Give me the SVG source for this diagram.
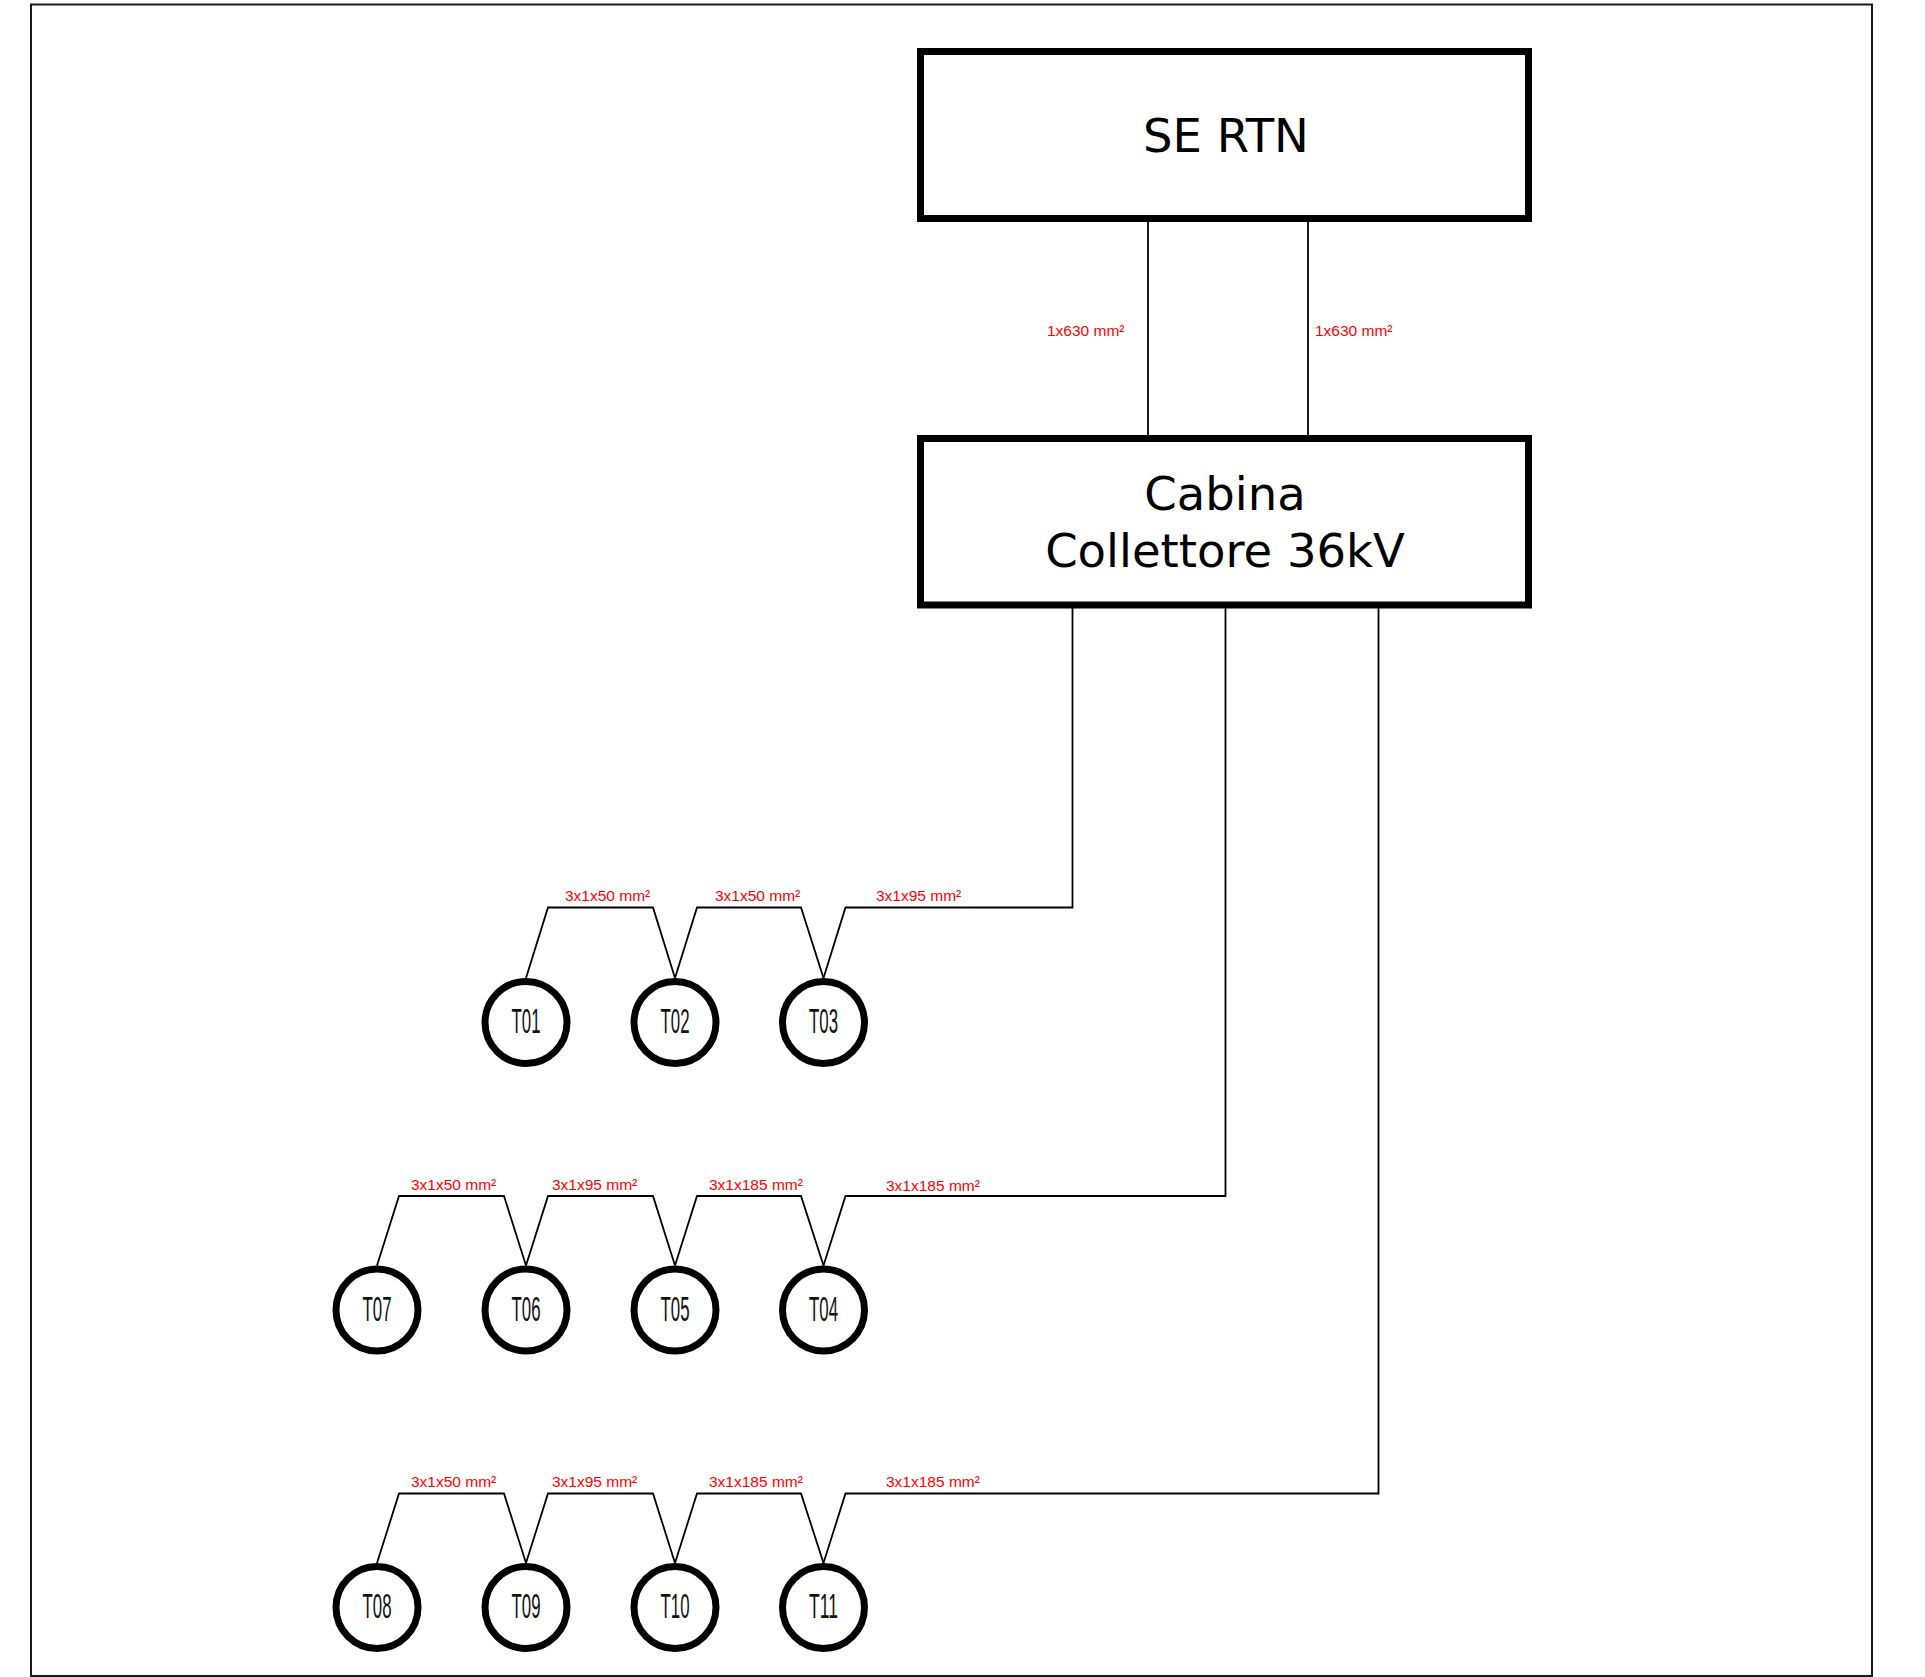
<svg xmlns="http://www.w3.org/2000/svg" width="1925" height="1677" viewBox="0 0 1925 1677">
<style>
.frame{fill:none;stroke:#1a1a1a;stroke-width:2}
.box{fill:#fff;stroke:#000;stroke-width:7}
.boxt{font-family:"DejaVu Sans",sans-serif;font-size:46.5px;fill:#000;text-anchor:middle}
.wire{fill:none;stroke:#000;stroke-width:1.8;stroke-linejoin:miter}
.lbl{font-family:"Liberation Sans",Arial,sans-serif;font-size:15.5px;fill:#ff0000}
.tc{fill:#fff;stroke:#000;stroke-width:7}
.tt{font-family:"Liberation Sans",Arial,sans-serif;font-size:35px;fill:#111;text-anchor:middle}
</style>
<rect width="1925" height="1677" fill="#fff"/>
<rect class="frame" x="31" y="4.5" width="1841" height="1671.5"/>

<g id="connectors">
  <line class="wire" x1="1148" y1="219" x2="1148" y2="438"/>
  <line class="wire" x1="1308" y1="219" x2="1308" y2="438"/>
  <text class="lbl" x="1047" y="336">1x630 mm²</text>
  <text class="lbl" x="1315" y="336">1x630 mm²</text>

  <!-- row 1 -->
  <polyline class="wire" points="526,978 548,907.5 653,907.5 675,978"/>
  <polyline class="wire" points="675,978 697,907.5 801,907.5 823.5,978"/>
  <polyline class="wire" points="823.5,978 845.5,907.5 1072.5,907.5 1072.5,605"/>
  <text class="lbl" x="565" y="901">3x1x50 mm²</text>
  <text class="lbl" x="715" y="901">3x1x50 mm²</text>
  <text class="lbl" x="876" y="901">3x1x95 mm²</text>

  <!-- row 2 -->
  <polyline class="wire" points="377,1265.5 399,1196 504,1196 526,1265.5"/>
  <polyline class="wire" points="526,1265.5 548,1196 653,1196 675,1265.5"/>
  <polyline class="wire" points="675,1265.5 697,1196 801,1196 823.5,1265.5"/>
  <polyline class="wire" points="823.5,1265.5 845.5,1196 1225.5,1196 1225.5,605"/>
  <text class="lbl" x="411" y="1189.5">3x1x50 mm²</text>
  <text class="lbl" x="552" y="1189.5">3x1x95 mm²</text>
  <text class="lbl" x="709" y="1189.5">3x1x185 mm²</text>
  <text class="lbl" x="886" y="1190.5">3x1x185 mm²</text>

  <!-- row 3 -->
  <polyline class="wire" points="377,1563 399,1493.5 504,1493.5 526,1563"/>
  <polyline class="wire" points="526,1563 548,1493.5 653,1493.5 675,1563"/>
  <polyline class="wire" points="675,1563 697,1493.5 801,1493.5 823.5,1563"/>
  <polyline class="wire" points="823.5,1563 845.5,1493.5 1378.5,1493.5 1378.5,605"/>
  <text class="lbl" x="411" y="1487">3x1x50 mm²</text>
  <text class="lbl" x="552" y="1487">3x1x95 mm²</text>
  <text class="lbl" x="709" y="1487">3x1x185 mm²</text>
  <text class="lbl" x="886" y="1487">3x1x185 mm²</text>
</g>

<g id="se-rtn">
  <rect class="box" x="920.5" y="51.5" width="608" height="167"/>
  <text class="boxt" x="1226" y="152">SE RTN</text>
</g>
<g id="cabina">
  <rect class="box" x="920.5" y="438.5" width="608" height="166.5"/>
  <text class="boxt" x="1225" y="509.5">Cabina</text>
  <text class="boxt" x="1225" y="566.5">Collettore 36kV</text>
</g>

<g id="T01"><circle class="tc" cx="526" cy="1022.5" r="41"/><text class="tt" x="526" y="1033.3" textLength="29" lengthAdjust="spacingAndGlyphs">T01</text></g>
<g id="T02"><circle class="tc" cx="675" cy="1022.5" r="41"/><text class="tt" x="675" y="1033.3" textLength="29" lengthAdjust="spacingAndGlyphs">T02</text></g>
<g id="T03"><circle class="tc" cx="823.5" cy="1022.5" r="41"/><text class="tt" x="823.5" y="1033.3" textLength="29" lengthAdjust="spacingAndGlyphs">T03</text></g>

<g id="T07"><circle class="tc" cx="377" cy="1310" r="41"/><text class="tt" x="377" y="1320.8" textLength="29" lengthAdjust="spacingAndGlyphs">T07</text></g>
<g id="T06"><circle class="tc" cx="526" cy="1310" r="41"/><text class="tt" x="526" y="1320.8" textLength="29" lengthAdjust="spacingAndGlyphs">T06</text></g>
<g id="T05"><circle class="tc" cx="675" cy="1310" r="41"/><text class="tt" x="675" y="1320.8" textLength="29" lengthAdjust="spacingAndGlyphs">T05</text></g>
<g id="T04"><circle class="tc" cx="823.5" cy="1310" r="41"/><text class="tt" x="823.5" y="1320.8" textLength="29" lengthAdjust="spacingAndGlyphs">T04</text></g>

<g id="T08"><circle class="tc" cx="377" cy="1607.5" r="41"/><text class="tt" x="377" y="1618.3" textLength="29" lengthAdjust="spacingAndGlyphs">T08</text></g>
<g id="T09"><circle class="tc" cx="526" cy="1607.5" r="41"/><text class="tt" x="526" y="1618.3" textLength="29" lengthAdjust="spacingAndGlyphs">T09</text></g>
<g id="T10"><circle class="tc" cx="675" cy="1607.5" r="41"/><text class="tt" x="675" y="1618.3" textLength="29" lengthAdjust="spacingAndGlyphs">T10</text></g>
<g id="T11"><circle class="tc" cx="823.5" cy="1607.5" r="41"/><text class="tt" x="823.5" y="1618.3" textLength="29" lengthAdjust="spacingAndGlyphs">T11</text></g>
</svg>
